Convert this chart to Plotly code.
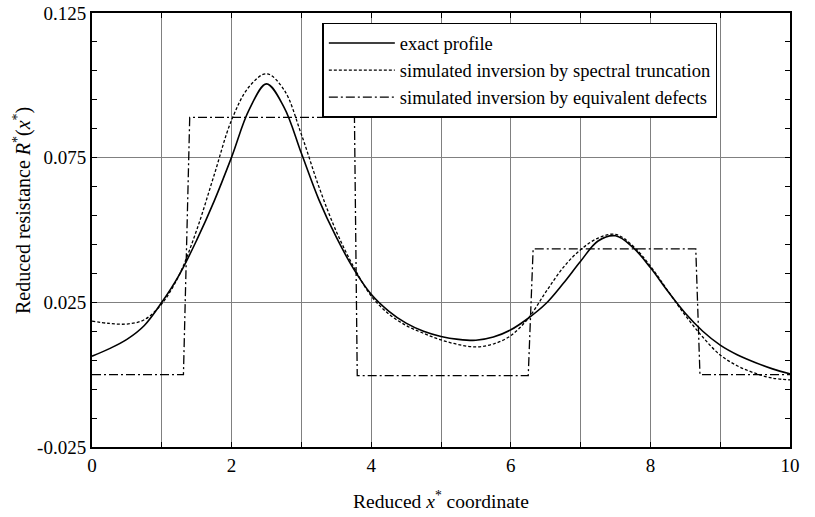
import plotly.graph_objects as go

# Reduced coordinate samples
x_curve = [0.0, 0.25, 0.5, 0.75, 1.0, 1.25, 1.5, 1.75, 2.0, 2.25, 2.5, 2.75,
           3.0, 3.25, 3.5, 3.75, 4.0, 4.25, 4.5, 4.75, 5.0, 5.25, 5.5, 5.75,
           6.0, 6.25, 6.5, 6.75, 7.0, 7.25, 7.5, 7.75, 8.0, 8.25, 8.5, 8.75,
           9.0, 9.25, 9.5, 9.75, 10.0]

# Exact resistance profile
r_exact = [0.0064, 0.0090, 0.0122, 0.0170, 0.0250, 0.0345, 0.0465, 0.0600,
           0.0752, 0.0915, 0.1005, 0.0925, 0.0765, 0.0605, 0.0475, 0.0365,
           0.0278, 0.0220, 0.0178, 0.0150, 0.0132, 0.0122, 0.0119, 0.0130,
           0.0155, 0.0195, 0.0245, 0.0315, 0.0392, 0.0462, 0.0480, 0.0440,
           0.0370, 0.0288, 0.0212, 0.0150, 0.0102, 0.0068, 0.0042, 0.0020,
           0.0003]

# Inversion by spectral truncation
r_spectral = [0.0185, 0.0177, 0.0175, 0.0190, 0.0245, 0.0345, 0.0500, 0.0690,
              0.0880, 0.0995, 0.1040, 0.0985, 0.0830, 0.0650, 0.0495, 0.0372,
              0.0272, 0.0210, 0.0170, 0.0143, 0.0120, 0.0104, 0.0096, 0.0106,
              0.0135, 0.0195, 0.0285, 0.0370, 0.0432, 0.0472, 0.0485, 0.0445,
              0.0375, 0.0290, 0.0205, 0.0130, 0.0068, 0.0030, 0.0005, -0.0012,
              -0.0018]

# Inversion by equivalent defects (piecewise-constant)
x_defects = [0.0, 1.31, 1.40, 3.76, 3.80, 6.25, 6.32, 8.65, 8.71, 10.0]
r_defects = [0.0, 0.0, 0.0889, 0.0889, -0.0003, -0.0003, 0.0435, 0.0435, 0.0, 0.0]

series_names = ["exact profile",
                "simulated inversion by spectral truncation",
                "simulated inversion by equivalent defects"]

x_ticks = [0, 2, 4, 6, 8, 10]
y_ticks = [-0.025, 0.025, 0.075, 0.125]
y_tick_text = ["-0.025", "0.025", "0.075", "0.125"]

SERIF = "Liberation Serif, Times New Roman, serif"

fig = go.Figure()
fig.add_trace(go.Scatter(
    x=x_curve, y=r_exact, name=series_names[0], mode="lines",
    line=dict(color="black", width=1.6, shape="spline", smoothing=1.0)))
fig.add_trace(go.Scatter(
    x=x_curve, y=r_spectral, name=series_names[1], mode="lines",
    line=dict(color="black", width=1.3, dash="3px,2px", shape="spline", smoothing=1.0)))
fig.add_trace(go.Scatter(
    x=x_defects, y=r_defects, name=series_names[2], mode="lines",
    line=dict(color="black", width=1.3, dash="9px,3px,2px,3px")))

axis_common = dict(
    showline=True, linecolor="black", linewidth=2, mirror="ticks",
    ticks="inside", ticklen=5, tickcolor="black", tickwidth=1,
    showgrid=True, gridcolor="#808080", gridwidth=1,
    zeroline=False, automargin=False,
    tickfont=dict(family=SERIF, size=19, color="black"),
)

fig.update_xaxes(
    range=[0, 10], tickvals=x_ticks, ticktext=[str(v) for v in x_ticks],
    minor=dict(dtick=1, tick0=0, ticks="inside", ticklen=5, tickcolor="black",
               showgrid=True, gridcolor="#808080", gridwidth=1),
    title=dict(text="Reduced <i>x</i><sup>*</sup> coordinate",
               font=dict(family=SERIF, size=19.5, color="black"), standoff=20),
    **axis_common)

fig.update_yaxes(
    range=[-0.025, 0.125], tickvals=y_ticks, ticktext=y_tick_text,
    minor=dict(dtick=0.01, tick0=-0.025, ticks="inside", ticklen=5,
               tickcolor="black", showgrid=False),
    **axis_common)

# Vertical axis label, placed a little above the axis centre
fig.add_annotation(
    text="Reduced resistance <i>R</i><sup>*</sup>(<i>x</i><sup>*</sup>)",
    xref="paper", yref="paper", x=-0.1003, y=0.546,
    xanchor="center", yanchor="middle", textangle=-90, showarrow=False,
    font=dict(family=SERIF, size=20, color="black"))

fig.update_layout(
    width=815, height=517,
    margin=dict(l=92, r=25, t=13, b=70, autoexpand=False),
    paper_bgcolor="white", plot_bgcolor="white",
    font=dict(family=SERIF, color="black"),
    showlegend=True,
    legend=dict(
        x=0.33, y=0.977, xanchor="left", yanchor="top",
        bgcolor="white", bordercolor="black", borderwidth=1.5,
        font=dict(family=SERIF, size=18.5, color="black"),
        itemwidth=66, tracegroupgap=0,
    ),
)

fig.write_html("out.html")
